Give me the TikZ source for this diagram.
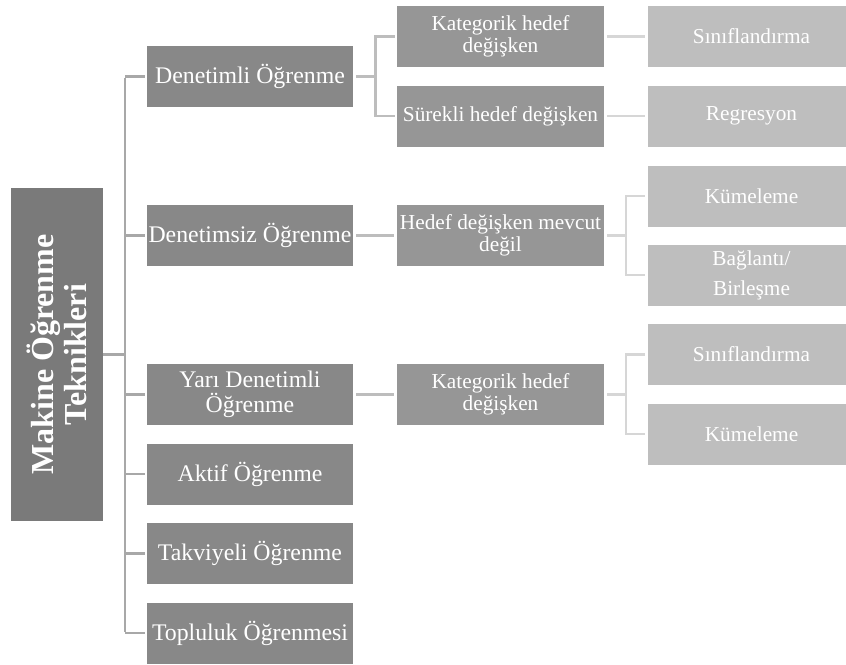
\documentclass[tikz,border=0pt]{standalone}
\usepackage{fontspec}
\setmainfont{Liberation Serif}
\begin{document}
\begin{tikzpicture}[x=1pt,y=-1pt,
  box/.style={rectangle, inner sep=0pt, align=center, text=white, font=\fontsize{23.8}{25}\selectfont},
  rootbox/.style={box, fill=root, minimum width=92pt, minimum height=333pt},
  lone/.style={box, fill=lvone, minimum width=206pt, minimum height=61pt},
  ltwo/.style={box, fill=lvtwo, minimum width=207pt, minimum height=61pt, font=\fontsize{21.3}{21.5}\selectfont},
  lthree/.style={box, fill=lvthree, minimum width=207pt, minimum height=61pt, font=\fontsize{21.3}{21.5}\selectfont},
  cone/.style={draw=cone, line width=2.6pt},
  ctwo/.style={draw=ctwo, line width=2.6pt},
  cthree/.style={draw=cthree, line width=2.6pt},
]
\definecolor{root}{HTML}{7A7A7A}
\definecolor{lvone}{HTML}{888888}
\definecolor{lvtwo}{HTML}{969696}
\definecolor{lvthree}{HTML}{BEBEBE}
\definecolor{cone}{HTML}{A8A8A8}
\definecolor{ctwo}{HTML}{BDBDBD}
\definecolor{cthree}{HTML}{D6D6D6}
\useasboundingbox (0,0) rectangle (846,664);
\clip (0,0) rectangle (846,664);

% root
\node[rootbox] (root) at (57,354.5) {};
\node[rotate=90, align=center, text=white, inner sep=0pt, font=\bfseries\fontsize{32}{33}\selectfont] (roottxt) at (57,354.5) {Makine Öğrenme\\Teknikleri};

% level 1
\node[lone] (d1) at (250,76.5) {Denetimli Öğrenme};
\node[lone] (d2) at (250,235.5) {Denetimsiz Öğrenme};
\node[lone] (d3) at (250,394.5) {Yarı Denetimli\\Öğrenme};
\node[lone] (d4) at (250,474) {Aktif Öğrenme};
\node[lone] (d5) at (250,553.5) {Takviyeli Öğrenme};
\node[lone] (d6) at (250,633) {Topluluk Öğrenmesi};

% level 2
\node[ltwo] (k1) at (500.5,36.5) {Kategorik hedef\\değişken};
\node[ltwo] (s1) at (500.5,116) {Sürekli hedef değişken};
\node[ltwo] (h1) at (500.5,235.5) {Hedef değişken mevcut\\değil};
\node[ltwo] (k2) at (500.5,394.5) {Kategorik hedef\\değişken};

% level 3
\node[lthree] (c1) at (751.5,36.5) {Sınıflandırma};
\node[lthree] (r1) at (751.5,116) {Regresyon};
\node[lthree] (m1) at (751.5,196) {Kümeleme};
\node[lthree, font=\fontsize{21.3}{30}\selectfont] (b1) at (751.5,275) {Bağlantı/\\Birleşme};
\node[lthree] (c2) at (751.5,354.5) {Sınıflandırma};
\node[lthree] (m2) at (751.5,434) {Kümeleme};

% connectors root -> level 1
\coordinate (spT) at (125,76.5);
\coordinate (spB) at (125,633);
\draw[cone] ([yshift=-1.3pt]spT) -- ([yshift=1.3pt]spB);
\draw[cone] (root.east) -- (root.east -| spT);
\foreach \n in {d1,d2,d3,d4,d5,d6}{
  \draw[cone, shorten >=2pt] (\n.west -| spT) -- (\n.west);
}

% level 1 -> level 2
\coordinate (f1) at (375.5,76.5);
\draw[ctwo, shorten <=3pt] (d1.east) -- (f1);
\draw[ctwo, shorten >=2pt] (f1) |- (k1.west);
\draw[ctwo, shorten >=2pt] (f1) |- (s1.west);
\draw[ctwo, shorten <=3pt, shorten >=3pt] (d2.east) -- (h1.west);
\draw[ctwo, shorten <=3pt, shorten >=3pt] (d3.east) -- (k2.west);

% level 2 -> level 3
\draw[cthree, shorten <=3pt, shorten >=3pt] (k1.east) -- (c1.west);
\draw[cthree, shorten <=3pt, shorten >=3pt] (s1.east) -- (r1.west);
\coordinate (f2) at (626,235.5);
\draw[cthree, shorten <=3pt] (h1.east) -- (f2);
\draw[cthree, shorten >=3pt] (f2) |- (m1.west);
\draw[cthree, shorten >=3pt] (f2) |- (b1.west);
\coordinate (f3) at (626,394.5);
\draw[cthree, shorten <=3pt] (k2.east) -- (f3);
\draw[cthree, shorten >=3pt] (f3) |- (c2.west);
\draw[cthree, shorten >=3pt] (f3) |- (m2.west);
\end{tikzpicture}
\end{document}
